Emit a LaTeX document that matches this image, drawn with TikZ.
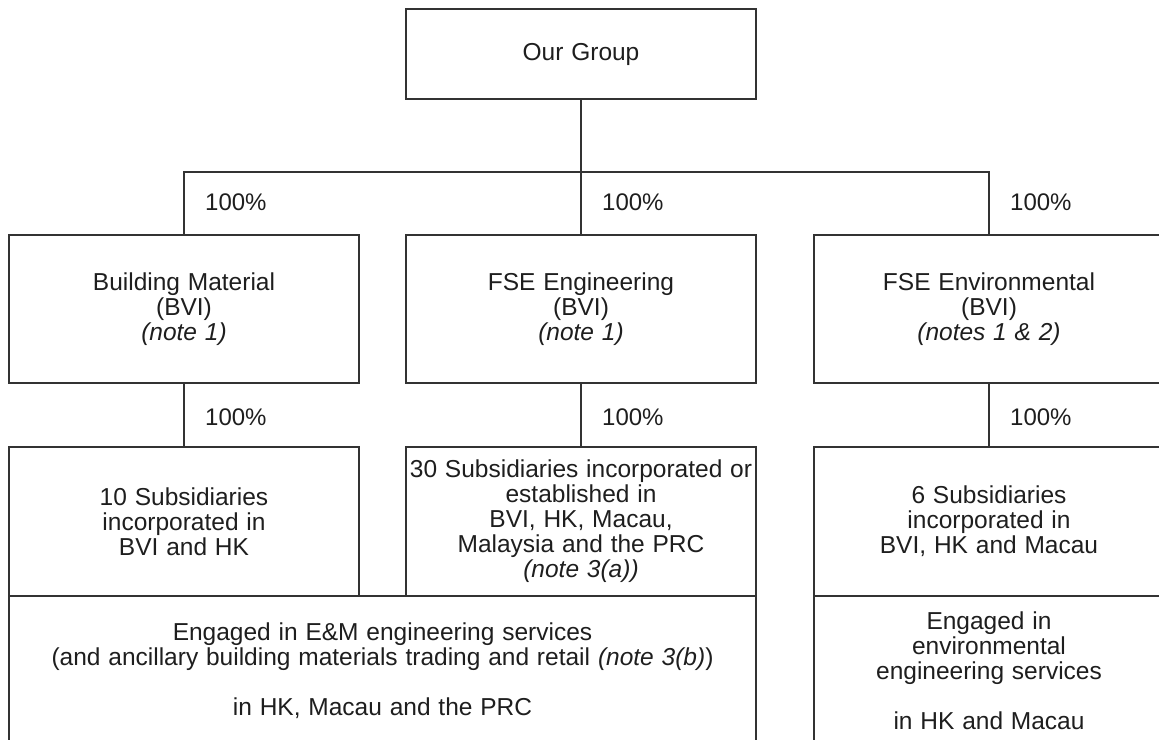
\documentclass[tikz,border=0pt]{standalone}
\usepackage{fontspec}
\setmainfont[WordSpace=1.15]{Liberation Sans}
\usepackage{tikz}
\usetikzlibrary{positioning,calc}
\definecolor{chartline}{HTML}{333333}
\definecolor{charttext}{HTML}{1E1E1E}
\tikzset{
  org/box/.style={draw=chartline, line width=1.3pt, minimum width=350pt, minimum height=148pt, align=center, inner sep=2pt, text=charttext, font=\fontsize{24.5}{25}\selectfont},
  org/top/.style={org/box, minimum height=90pt},
  org/sub/.style={org/box, minimum height=149pt},
  org/activity/.style={org/box, line width=2.4pt, minimum height=149pt},
  org/line/.style={draw=chartline, line width=1.3pt},
  org/pct/.style={anchor=west, inner sep=0pt, text=charttext, font=\fontsize{24}{25}\selectfont}
}

\begin{document}
\begin{tikzpicture}[x=1pt, y=-1pt]
  \path[use as bounding box, clip] (0,0) rectangle (1159,739);

  % holding company
  \node[org/top] (group) at (581,54) {Our Group};

  % BVI companies
  \node[org/box] (bm) at (184,309) {Building Material\\(BVI)\\\textit{(note 1)}};
  \node[org/box] (eng) at (581,309) {FSE Engineering\\(BVI)\\\textit{(note 1)}};
  \node[org/box] (env) at (989,309) {FSE Environmental\\(BVI)\\\textit{(notes 1 \& 2)}};

  % subsidiaries
  \node[org/sub] (bmsub) at (184,521.5) {10 Subsidiaries\\incorporated in\\BVI and HK};
  \node[org/sub] (engsub) at (581,521.5) {30 Subsidiaries incorporated or\\established in\\BVI, HK, Macau,\\Malaysia and the PRC\\\textit{(note 3(a))}};
  \node[org/sub] (envsub) at (989,521.5) {6 Subsidiaries\\incorporated in\\BVI, HK and Macau};

  % businesses
  \node[org/activity, minimum width=747pt] (em) at (382.5,670.5) {Engaged in E\&M engineering services\\(and ancillary building materials trading and retail \textit{(note 3(b)})\\[25pt]in HK, Macau and the PRC};
  \node[org/activity] (envbiz) at (989,670.5) {Engaged in\\environmental\\engineering services\\[25pt]in HK and Macau};

  % ownership lines
  \coordinate (bus) at (581,172);
  \draw[org/line] (group.south) -- (eng.north);
  \draw[org/line] (bm.north) -- (bm.north |- bus) -- (env.north |- bus) -- (env.north);
  \draw[org/line] (bm.south) -- (bmsub.north);
  \draw[org/line] (eng.south) -- (engsub.north);
  \draw[org/line] (env.south) -- (envsub.north);

  \node[org/pct] (p1) at ($(bm.north)+(21,-32)$) {100\%};
  \node[org/pct] (p2) at ($(eng.north)+(21,-32)$) {100\%};
  \node[org/pct] (p3) at ($(env.north)+(21,-32)$) {100\%};
  \node[org/pct] (p4) at ($(bm.south)+(21,34)$) {100\%};
  \node[org/pct] (p5) at ($(eng.south)+(21,34)$) {100\%};
  \node[org/pct] (p6) at ($(env.south)+(21,34)$) {100\%};
\end{tikzpicture}
\end{document}
